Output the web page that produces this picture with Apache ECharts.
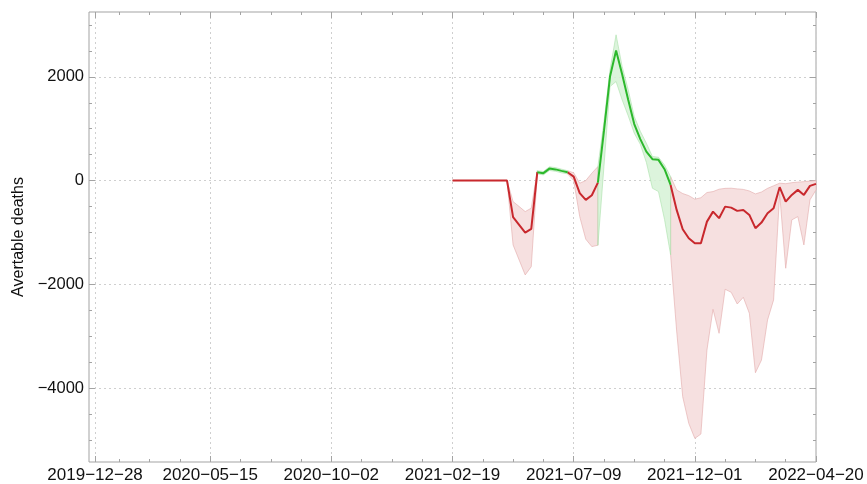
<!DOCTYPE html>
<html>
<head>
<meta charset="utf-8">
<script src="https://cdn.jsdelivr.net/npm/echarts@6/dist/echarts.min.js"></script>
<style>
  html, body { margin: 0; padding: 0; background: #fff; }
  #chart { width: 867px; height: 484px; }
</style>
</head>
<body>
<div id="chart"></div>
<script>
// x is counted in weeks, 2021-02-19 = week 60
var firstWeek = 60;
var tickWeeks = [1, 20, 40, 60, 80, 100, 120];
var tickLabels = ['2019-12-28', '2020-05-15', '2020-10-02', '2021-02-19', '2021-07-09', '2021-12-01', '2022-04-20'];
var yTicks = [-4000, -2000, 0, 2000];

// avertable deaths, weekly, week 60 .. 120
var deaths = [0, 0, 0, 0, 0, 0, 0, 0, 0, 0,
  -706, -855, -1003, -932, 162, 143, 231, 216, 187, 162,
  77, -243, -372, -282, -39, 957, 2006, 2508, 2050, 1560,
  1090, 800, 559, 413, 400, 220, -83, -565, -937, -1111,
  -1208, -1208, -791, -598, -725, -502, -521, -584, -565, -662,
  -918, -810, -629, -532, -127, -405, -276, -179, -276, -102, -64];
var lower = [0, 0, 0, 0, 0, 0, 0, 0, 0, 0,
  -1240, -1530, -1819, -1659, 130, 110, 195, 180, 150, 130,
  0, -694, -1130, -1273, -1246, 274, 1813, 1910, 1557, 1250,
  914, 700, 350, -147, -212, -750, -1430, -2900, -4167, -4680,
  -4970, -4886, -3266, -2481, -2944, -2095, -2153, -2379, -2250, -2558,
  -3704, -3459, -2687, -2301, -250, -1690, -758, -694, -1240, -372, -180];
var upper = [0, 0, 0, 0, 0, 0, 0, 0, 0, 0,
  -405, -500, -598, -532, 190, 175, 265, 250, 220, 190,
  150, -50, 0, 143, 270, 1132, 2135, 2810, 2200, 1750,
  1235, 950, 721, 463, 450, 300, 77, -180, -250, -290,
  -359, -330, -230, -212, -166, -150, -147, -160, -170, -200,
  -257, -220, -150, -100, -50, -60, -40, -30, -20, -10, 0];
// week ranges drawn in green / red
var greenRuns = [[74, 79], [84, 96]];
var redRuns = [[60, 74], [79, 84], [96, 120]];

function inRuns(runs) {
  return function (w) {
    for (var i = 0; i < runs.length; i++) {
      if (w >= runs[i][0] && w <= runs[i][1]) return true;
    }
    return false;
  };
}

function pick(arr, test) {
  return arr.map(function (v, i) {
    var w = firstWeek + i;
    return [w, test(w) ? v : null];
  });
}

var RED = '#c8282d', GREEN = '#2cb82c';
var FRAME = '#a3a3a3';

// confidence band: one polygon per run, built through the axis scales
function bandSeries(runs, fill, edge) {
  return {
    type: 'custom',
    silent: true,
    z: 1,
    data: runs,
    encode: { x: [0, 1] },
    renderItem: function (params, api) {
      var run = runs[params.dataIndex];
      var top = [], bot = [];
      for (var w = run[0]; w <= run[1]; w++) {
        top.push(api.coord([w, upper[w - firstWeek]]));
        bot.unshift(api.coord([w, lower[w - firstWeek]]));
      }
      return {
        type: 'polygon',
        shape: { points: top.concat(bot) },
        style: { fill: fill, stroke: edge, lineWidth: 1 }
      };
    }
  };
}

var minorX = [], minorY = [];
for (var w = 5; w < 120; w += 5) if (w % 20 != 0) minorX.push(w);
for (var v = -5000; v <= 3000; v += 500) if (v % 2000 != 0) minorY.push(v);

function fmtDate(v) {
  var k = tickWeeks.indexOf(v);
  return k < 0 ? '' : tickLabels[k].replace(/-/g, '\u2212');
}
function fmtNum(v) {
  return v < 0 ? '\u2212' + Math.abs(v) : String(v);
}

var xBase = { type: 'value', min: 0, max: 120, gridIndex: 0 };
var yBase = { type: 'value', min: -5425, max: 3250, gridIndex: 0 };

function xAxis(pos, labels, major) {
  return Object.assign({}, xBase, {
    position: pos,
    axisLine: { show: false, onZero: false },
    axisTick: { show: true, inside: true, length: major ? 6 : 3, customValues: major ? tickWeeks : minorX, lineStyle: { color: FRAME } },
    axisLabel: labels ? { show: true, customValues: tickWeeks, formatter: fmtDate, color: '#111', fontSize: 17, fontFamily: 'Liberation Sans', margin: 5 } : { show: false },
    splitLine: labels ? { show: true, lineStyle: { color: '#cfcfcf', type: [2, 3], width: 1 } } : { show: false }
  });
}
function yAxis(pos, labels, major) {
  var a = Object.assign({}, yBase, {
    position: pos,
    axisLine: { show: false, onZero: false },
    axisTick: { show: true, inside: true, length: major ? 6 : 3, customValues: major ? yTicks : minorY, lineStyle: { color: FRAME } },
    axisLabel: labels ? { show: true, customValues: yTicks, formatter: fmtNum, color: '#111', fontSize: 16.5, fontFamily: 'Liberation Sans', margin: 5 } : { show: false },
    splitLine: labels ? { show: true, lineStyle: { color: '#cfcfcf', type: [2, 3], width: 1 } } : { show: false }
  });
  if (labels) {
    a.name = 'Avertable deaths';
    a.nameLocation = 'middle';
    a.nameGap = 60;
    a.nameTextStyle = { color: '#111', fontSize: 16, fontFamily: 'Liberation Sans' };
  }
  return a;
}

var series = [
  bandSeries(redRuns, '#f6e0e0', 'rgba(226,170,170,0.6)'),
  bandSeries(greenRuns, 'rgba(214,242,214,0.85)', 'rgba(170,225,170,0.6)'),
  {
    type: 'line', name: 'red', data: pick(deaths, inRuns(redRuns)), showSymbol: false,
    lineStyle: { color: RED, width: 2 }, itemStyle: { color: RED }, z: 5
  }, {
    type: 'line', name: 'green', data: pick(deaths, inRuns(greenRuns)), showSymbol: false,
    lineStyle: { color: GREEN, width: 2 }, itemStyle: { color: GREEN }, z: 5
  }
];

var myChart = echarts.init(document.getElementById('chart'), null, { renderer: 'canvas' });
var option = {
  animation: false,
  backgroundColor: '#fff',
  grid: { left: 89, right: 51, top: 12, bottom: 22, show: true, borderColor: FRAME, borderWidth: 1, backgroundColor: 'transparent' },
  xAxis: [xAxis('bottom', true, true), xAxis('top', false, true), xAxis('bottom', false, false), xAxis('top', false, false)],
  yAxis: [yAxis('left', true, true), yAxis('right', false, true), yAxis('left', false, false), yAxis('right', false, false)],
  series: series
};
myChart.setOption(option);
</script>
</body>
</html>
